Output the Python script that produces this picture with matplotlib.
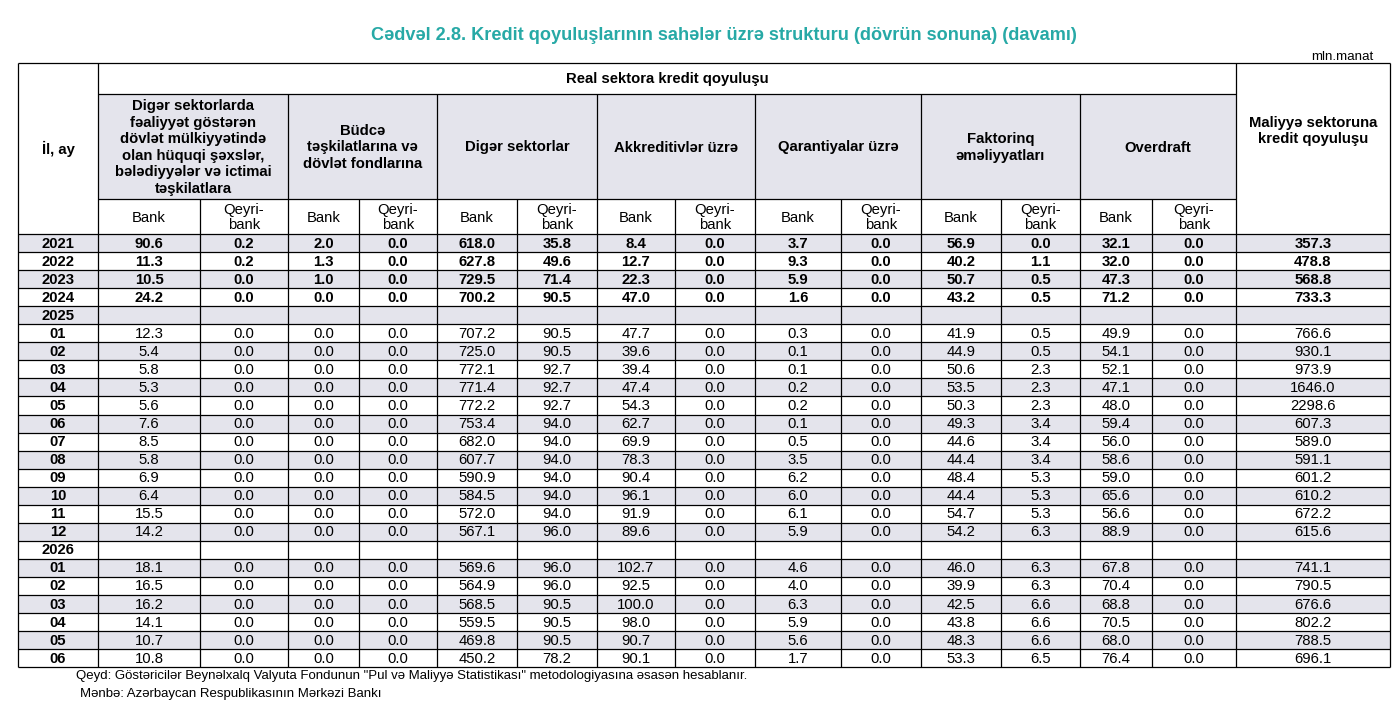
"""Cədvəl 2.8 — kredit qoyuluşlarının sahələr üzrə strukturu (davamı)."""

import matplotlib
matplotlib.use("Agg")
import matplotlib.pyplot as plt
from matplotlib.patches import Rectangle

plt.rcParams["font.family"] = ["Liberation Sans", "DejaVu Sans"]

TITLE = "Cədvəl 2.8. Kredit qoyuluşlarının sahələr üzrə strukturu (dövrün sonuna) (davamı)"
UNIT = "mln.manat"
NOTE = ('Qeyd: Göstəricilər Beynəlxalq Valyuta Fondunun "Pul və Maliyyə Statistikası" '
        'metodologiyasına əsasən hesablanır.')
SOURCE = "Mənbə: Azərbaycan Respublikasının Mərkəzi Bankı"

TOP_HEADER = "Real sektora kredit qoyuluşu"
ROW_HEADER = "İl, ay"
LAST_HEADER = "Maliyyə sektoruna\nkredit qoyuluşu"
GROUPS = [
    "Digər sektorlarda\nfəaliyyət göstərən\ndövlət mülkiyyətində\nolan hüquqi şəxslər,\nbələdiyyələr və ictimai\ntəşkilatlara",
    "Büdcə\ntəşkilatlarına və\ndövlət fondlarına",
    "Digər sektorlar",
    "Akkreditivlər üzrə",
    "Qarantiyalar üzrə",
    "Faktorinq\nəməliyyatları",
    "Overdraft",
]
SUB_HEADERS = ["Bank", "Qeyri-\nbank"]

# row labels; "2025" and "2026" are section rows without values
periods = ["2021", "2022", "2023", "2024", "2025",
           "01", "02", "03", "04", "05", "06", "07", "08", "09", "10", "11", "12",
           "2026", "01", "02", "03", "04", "05", "06"]
bold_rows = ["2021", "2022", "2023", "2024"]

dovlet_bank = [90.6, 11.3, 10.5, 24.2, None,
               12.3, 5.4, 5.8, 5.3, 5.6, 7.6, 8.5, 5.8, 6.9, 6.4, 15.5, 14.2,
               None, 18.1, 16.5, 16.2, 14.1, 10.7, 10.8]
dovlet_qeyri = [0.2, 0.2, 0.0, 0.0, None,
                0.0, 0.0, 0.0, 0.0, 0.0, 0.0, 0.0, 0.0, 0.0, 0.0, 0.0, 0.0,
                None, 0.0, 0.0, 0.0, 0.0, 0.0, 0.0]
budce_bank = [2.0, 1.3, 1.0, 0.0, None,
              0.0, 0.0, 0.0, 0.0, 0.0, 0.0, 0.0, 0.0, 0.0, 0.0, 0.0, 0.0,
              None, 0.0, 0.0, 0.0, 0.0, 0.0, 0.0]
budce_qeyri = [0.0, 0.0, 0.0, 0.0, None,
               0.0, 0.0, 0.0, 0.0, 0.0, 0.0, 0.0, 0.0, 0.0, 0.0, 0.0, 0.0,
               None, 0.0, 0.0, 0.0, 0.0, 0.0, 0.0]
diger_bank = [618.0, 627.8, 729.5, 700.2, None,
              707.2, 725.0, 772.1, 771.4, 772.2, 753.4, 682.0, 607.7, 590.9, 584.5, 572.0, 567.1,
              None, 569.6, 564.9, 568.5, 559.5, 469.8, 450.2]
diger_qeyri = [35.8, 49.6, 71.4, 90.5, None,
               90.5, 90.5, 92.7, 92.7, 92.7, 94.0, 94.0, 94.0, 94.0, 94.0, 94.0, 96.0,
               None, 96.0, 96.0, 90.5, 90.5, 90.5, 78.2]
akkr_bank = [8.4, 12.7, 22.3, 47.0, None,
             47.7, 39.6, 39.4, 47.4, 54.3, 62.7, 69.9, 78.3, 90.4, 96.1, 91.9, 89.6,
             None, 102.7, 92.5, 100.0, 98.0, 90.7, 90.1]
akkr_qeyri = [0.0, 0.0, 0.0, 0.0, None,
              0.0, 0.0, 0.0, 0.0, 0.0, 0.0, 0.0, 0.0, 0.0, 0.0, 0.0, 0.0,
              None, 0.0, 0.0, 0.0, 0.0, 0.0, 0.0]
qarant_bank = [3.7, 9.3, 5.9, 1.6, None,
               0.3, 0.1, 0.1, 0.2, 0.2, 0.1, 0.5, 3.5, 6.2, 6.0, 6.1, 5.9,
               None, 4.6, 4.0, 6.3, 5.9, 5.6, 1.7]
qarant_qeyri = [0.0, 0.0, 0.0, 0.0, None,
                0.0, 0.0, 0.0, 0.0, 0.0, 0.0, 0.0, 0.0, 0.0, 0.0, 0.0, 0.0,
                None, 0.0, 0.0, 0.0, 0.0, 0.0, 0.0]
fakt_bank = [56.9, 40.2, 50.7, 43.2, None,
             41.9, 44.9, 50.6, 53.5, 50.3, 49.3, 44.6, 44.4, 48.4, 44.4, 54.7, 54.2,
             None, 46.0, 39.9, 42.5, 43.8, 48.3, 53.3]
fakt_qeyri = [0.0, 1.1, 0.5, 0.5, None,
              0.5, 0.5, 2.3, 2.3, 2.3, 3.4, 3.4, 3.4, 5.3, 5.3, 5.3, 6.3,
              None, 6.3, 6.3, 6.6, 6.6, 6.6, 6.5]
overdraft_bank = [32.1, 32.0, 47.3, 71.2, None,
                  49.9, 54.1, 52.1, 47.1, 48.0, 59.4, 56.0, 58.6, 59.0, 65.6, 56.6, 88.9,
                  None, 67.8, 70.4, 68.8, 70.5, 68.0, 76.4]
overdraft_qeyri = [0.0, 0.0, 0.0, 0.0, None,
                   0.0, 0.0, 0.0, 0.0, 0.0, 0.0, 0.0, 0.0, 0.0, 0.0, 0.0, 0.0,
                   None, 0.0, 0.0, 0.0, 0.0, 0.0, 0.0]
maliyye = [357.3, 478.8, 568.8, 733.3, None,
           766.6, 930.1, 973.9, 1646.0, 2298.6, 607.3, 589.0, 591.1, 601.2, 610.2, 672.2, 615.6,
           None, 741.1, 790.5, 676.6, 802.2, 788.5, 696.1]

columns = [dovlet_bank, dovlet_qeyri, budce_bank, budce_qeyri, diger_bank, diger_qeyri,
           akkr_bank, akkr_qeyri, qarant_bank, qarant_qeyri, fakt_bank, fakt_qeyri,
           overdraft_bank, overdraft_qeyri, maliyye]

# layout (pixels)
W, H = 1396, 722
X_EDGES = [18, 98, 200, 288, 359, 437, 517, 597, 675, 755, 841, 921, 1001, 1080, 1152, 1236, 1390]
Y_TOP, Y_REAL, Y_GROUP, Y_SUB = 63, 94, 199, 234
ROW_H = 18.05
FS = 10.7
SHADE = "#e4e4ec"
TEAL = "#27a9a6"
LW = 0.9

fig = plt.figure(figsize=(W / 100, H / 100), dpi=100)
ax = fig.add_axes([0, 0, 1, 1])
ax.set_xlim(0, W)
ax.set_ylim(H, 0)
ax.axis("off")

n_rows = len(periods)
y_bottom = Y_SUB + n_rows * ROW_H

# shading: group header cells and every other data row
for g in range(len(GROUPS)):
    x0, x1 = X_EDGES[1 + 2 * g], X_EDGES[3 + 2 * g]
    ax.add_patch(Rectangle((x0, Y_REAL), x1 - x0, Y_GROUP - Y_REAL, color=SHADE, lw=0))
for i in range(0, n_rows, 2):
    ax.add_patch(Rectangle((X_EDGES[0], Y_SUB + i * ROW_H), X_EDGES[-1] - X_EDGES[0], ROW_H,
                           color=SHADE, lw=0))

line = dict(color="black", lw=LW)
# horizontal rules
ax.hlines([Y_TOP, Y_SUB], X_EDGES[0], X_EDGES[-1], **line)
ax.hlines([Y_REAL, Y_GROUP], X_EDGES[1], X_EDGES[-2], **line)
for i in range(1, n_rows + 1):
    ax.hlines(Y_SUB + i * ROW_H, X_EDGES[0], X_EDGES[-1], **line)
# vertical rules
for k, x in enumerate(X_EDGES):
    if k in (0, 1, len(X_EDGES) - 2, len(X_EDGES) - 1):
        ax.vlines(x, Y_TOP, y_bottom, **line)
    elif k % 2 == 1:
        ax.vlines(x, Y_REAL, y_bottom, **line)
    else:
        ax.vlines(x, Y_GROUP, y_bottom, **line)

# titles
ax.text(724, 36, TITLE, color=TEAL, fontsize=13.1, fontweight="bold", ha="center", va="center")
ax.text(1373, 57, UNIT, fontsize=9.6, ha="right", va="center")

# header texts
ax.text((X_EDGES[1] + X_EDGES[-2]) / 2, (Y_TOP + Y_REAL) / 2, TOP_HEADER,
        fontsize=FS, fontweight="bold", ha="center", va="center")
ax.text((X_EDGES[0] + X_EDGES[1]) / 2, (Y_TOP + Y_SUB) / 2, ROW_HEADER,
        fontsize=FS, fontweight="bold", ha="center", va="center")
ax.text((X_EDGES[-2] + X_EDGES[-1]) / 2, 131, LAST_HEADER,
        fontsize=FS, fontweight="bold", ha="center", va="center", linespacing=1.23)
for g, label in enumerate(GROUPS):
    xc = (X_EDGES[1 + 2 * g] + X_EDGES[3 + 2 * g]) / 2
    ax.text(xc, (Y_REAL + Y_GROUP) / 2 + 1, label, fontsize=FS, fontweight="bold",
            ha="center", va="center", linespacing=1.23)
    for s, sub in enumerate(SUB_HEADERS):
        xs = (X_EDGES[1 + 2 * g + s] + X_EDGES[2 + 2 * g + s]) / 2
        ax.text(xs, (Y_GROUP + Y_SUB) / 2 + 1, sub, fontsize=FS,
                ha="center", va="center", linespacing=1.15)

# body
for i, label in enumerate(periods):
    yc = Y_SUB + (i + 0.5) * ROW_H + 0.5
    weight = "bold" if label in bold_rows else "normal"
    ax.text((X_EDGES[0] + X_EDGES[1]) / 2, yc, label, fontsize=FS, fontweight="bold",
            ha="center", va="center")
    for c, col in enumerate(columns):
        if col[i] is None:
            continue
        xc = (X_EDGES[1 + c] + X_EDGES[2 + c]) / 2
        ax.text(xc, yc, f"{col[i]:.1f}", fontsize=FS, fontweight=weight,
                ha="center", va="center")

ax.text(76, 676, NOTE, fontsize=9.55, ha="left", va="center")
ax.text(80, 694, SOURCE, fontsize=9.55, ha="left", va="center")

fig.savefig("out.png", dpi=100)
plt.close(fig)
